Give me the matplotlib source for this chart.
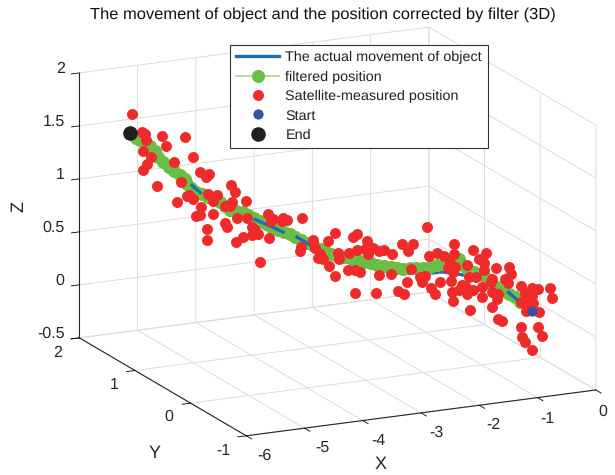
# -*- coding: utf-8 -*-
""" Object movement, satellite measurements and filter output in 3D """

import numpy as np
import matplotlib
matplotlib.use('Agg')
import matplotlib.pyplot as plt
from matplotlib.transforms import offset_copy

# actual movement of object, start -> end
true_x = [-0.99, -1.12, -1.25, -1.38, -1.54, -1.68, -1.85, -2.01, -2.10, -2.25,
          -2.39, -2.58, -2.83, -2.97, -3.14, -3.28, -3.48, -3.63, -3.78, -3.95,
          -4.10, -4.34, -4.55, -4.71, -4.80, -4.94, -5.08, -5.27, -5.44, -5.50]
true_y = [-0.89, -0.81, -0.74, -0.67, -0.58, -0.50, -0.41, -0.32, -0.27, -0.19,
          -0.11, -0.02, 0.13, 0.21, 0.31, 0.38, 0.49, 0.57, 0.66, 0.75,
          0.83, 0.97, 1.08, 1.18, 1.23, 1.30, 1.38, 1.49, 1.58, 1.61]
true_z = [0.28, 0.35, 0.43, 0.48, 0.53, 0.54, 0.55, 0.55, 0.53, 0.52,
          0.50, 0.50, 0.52, 0.54, 0.57, 0.60, 0.66, 0.72, 0.75, 0.80,
          0.84, 0.89, 0.98, 1.03, 1.09, 1.18, 1.28, 1.40, 1.50, 1.52]

# filtered position
filt_x = [-1.12, -1.18, -1.25, -1.31, -1.38, -1.45, -1.50, -1.57, -1.64, -1.71,
          -1.75, -1.81, -1.89, -1.96, -2.05, -2.13, -2.21, -2.29, -2.36, -2.44,
          -2.50, -2.57, -2.65, -2.73, -2.80, -2.87, -2.94, -3.01, -3.09, -3.17,
          -3.24, -3.31, -3.37, -3.43, -3.51, -3.58, -3.65, -3.70, -3.77, -3.84,
          -3.91, -3.97, -4.04, -4.11, -4.18, -4.24, -4.31, -4.38, -4.43, -4.49,
          -4.56, -4.62, -4.69, -4.76, -4.81, -4.86, -4.89, -4.94, -5.01, -5.07,
          -5.13, -5.19, -5.22, -5.27, -5.33, -5.39, -5.43]
filt_y = [-0.81, -0.78, -0.74, -0.71, -0.67, -0.63, -0.60, -0.56, -0.53, -0.49,
          -0.46, -0.43, -0.39, -0.35, -0.30, -0.25, -0.21, -0.17, -0.13, -0.09,
          -0.05, -0.01, 0.03, 0.08, 0.11, 0.16, 0.19, 0.23, 0.28, 0.32,
          0.36, 0.40, 0.43, 0.47, 0.51, 0.55, 0.59, 0.62, 0.65, 0.69,
          0.73, 0.77, 0.80, 0.84, 0.88, 0.91, 0.95, 0.99, 1.02, 1.05,
          1.09, 1.13, 1.16, 1.20, 1.23, 1.26, 1.27, 1.30, 1.34, 1.37,
          1.41, 1.44, 1.46, 1.49, 1.52, 1.55, 1.57]
filt_z = [0.35, 0.39, 0.42, 0.44, 0.47, 0.50, 0.54, 0.57, 0.59, 0.60,
          0.63, 0.69, 0.66, 0.64, 0.61, 0.58, 0.57, 0.56, 0.55, 0.54,
          0.54, 0.54, 0.54, 0.54, 0.56, 0.56, 0.57, 0.57, 0.58, 0.58,
          0.60, 0.62, 0.63, 0.65, 0.67, 0.70, 0.72, 0.74, 0.75, 0.77,
          0.78, 0.81, 0.83, 0.85, 0.87, 0.90, 0.90, 0.90, 0.93, 0.97,
          0.99, 1.00, 1.02, 1.03, 1.07, 1.10, 1.14, 1.18, 1.21, 1.24,
          1.28, 1.32, 1.37, 1.41, 1.44, 1.46, 1.48]

# satellite-measured position
meas_x = [-5.48, -5.36, -5.33, -5.32, -5.35, -5.14, -4.89, -5.10, -5.26, -5.01,
          -4.79, -5.31, -5.35, -4.71, -4.61, -4.65, -5.20, -4.93, -4.37, -4.32,
          -4.97, -4.84, -4.86, -4.79, -4.70, -4.52, -4.62, -4.57, -4.35, -4.20,
          -4.43, -4.38, -4.71, -4.76, -4.57, -4.30, -4.19, -4.43, -4.41, -4.64,
          -4.64, -4.13, -4.10, -4.23, -4.13, -4.06, -4.31, -3.94, -3.95, -3.89,
          -3.92, -3.78, -3.74, -3.79, -3.57, -4.04, -3.45, -3.58, -3.59, -3.28,
          -3.42, -3.37, -3.39, -3.33, -3.27, -2.17, -3.20, -3.00, -2.95, -2.84,
          -2.45, -2.32, -2.38, -1.86, -2.95, -2.86, -2.77, -2.83, -2.71, -2.65,
          -2.56, -3.04, -3.17, -3.15, -3.20, -3.05, -2.97, -2.92, -2.97, -2.74,
          -2.71, -2.57, -2.49, -2.42, -2.35, -2.39, -2.25, -2.19, -2.22, -2.12,
          -2.08, -2.02, -2.14, -2.05, -1.98, -1.86, -1.91, -1.85, -1.90, -1.89,
          -1.88, -1.81, -1.65, -1.50, -1.58, -1.53, -1.39, -1.25, -1.53, -1.91,
          -1.72, -1.93, -1.88, -1.70, -1.61, -1.22, -1.29, -1.43, -1.45, -1.26,
          -1.77, -1.73, -1.55, -1.65, -1.72, -1.55, -1.43, -1.37, -1.38, -1.44,
          -1.68, -1.11, -0.99, -0.92, -0.79, -0.76, -1.07, -0.99, -1.11, -1.04,
          -0.98, -1.06, -0.98, -0.91, -1.37, -1.33, -1.11, -0.92, -1.10, -1.07,
          -0.88, -0.99]
meas_y = [1.60, 1.54, 1.52, 1.51, 1.53, 1.41, 1.27, 1.39, 1.48, 1.34,
          1.22, 1.50, 1.53, 1.18, 1.12, 1.14, 1.44, 1.29, 0.98, 0.96,
          1.32, 1.24, 1.26, 1.22, 1.17, 1.07, 1.13, 1.09, 0.98, 0.89,
          1.02, 0.99, 1.18, 1.20, 1.09, 0.95, 0.88, 1.02, 1.01, 1.13,
          1.13, 0.85, 0.83, 0.91, 0.85, 0.82, 0.95, 0.75, 0.75, 0.72,
          0.73, 0.66, 0.64, 0.67, 0.54, 0.80, 0.47, 0.55, 0.55, 0.38,
          0.46, 0.43, 0.44, 0.41, 0.37, -0.23, 0.34, 0.23, 0.20, 0.14,
          -0.08, -0.15, -0.12, -0.40, 0.20, 0.15, 0.10, 0.13, 0.06, 0.03,
          -0.02, 0.25, 0.32, 0.31, 0.34, 0.26, 0.21, 0.18, 0.21, 0.08,
          0.06, -0.01, -0.05, -0.09, -0.13, -0.11, -0.19, -0.22, -0.20, -0.26,
          -0.28, -0.31, -0.25, -0.30, -0.34, -0.40, -0.38, -0.41, -0.38, -0.39,
          -0.40, -0.43, -0.52, -0.60, -0.56, -0.59, -0.66, -0.74, -0.59, -0.38,
          -0.48, -0.36, -0.40, -0.50, -0.54, -0.76, -0.72, -0.64, -0.63, -0.74,
          -0.45, -0.48, -0.58, -0.52, -0.48, -0.58, -0.64, -0.68, -0.67, -0.64,
          -0.50, -0.82, -0.89, -0.92, -1.00, -1.00, -0.84, -0.89, -0.82, -0.86,
          -0.89, -0.85, -0.89, -0.93, -0.68, -0.70, -0.82, -0.92, -0.82, -0.84,
          -0.95, -0.89]
meas_z = [1.70, 1.54, 1.52, 1.47, 1.36, 1.52, 1.54, 1.43, 1.31, 1.29,
          1.36, 1.24, 1.18, 1.22, 1.22, 1.19, 1.05, 1.11, 1.14, 1.08,
          0.92, 1.00, 0.98, 0.96, 0.90, 1.03, 1.03, 0.97, 0.98, 1.00,
          0.93, 0.94, 0.82, 0.81, 0.85, 0.83, 0.85, 0.77, 0.74, 0.70,
          0.59, 0.77, 0.74, 0.66, 0.69, 0.70, 0.61, 0.68, 0.91, 0.86,
          0.84, 0.88, 0.87, 0.85, 0.91, 0.44, 0.71, 0.63, 0.59, 0.72,
          0.64, 0.59, 0.55, 0.54, 0.48, 0.96, 0.80, 0.78, 0.81, 0.76,
          0.77, 0.78, 0.71, 0.83, 0.66, 0.68, 0.70, 0.64, 0.68, 0.69,
          0.67, 0.63, 0.61, 0.56, 0.39, 0.46, 0.47, 0.46, 0.26, 0.28,
          0.45, 0.47, 0.32, 0.30, 0.54, 0.42, 0.48, 0.49, 0.43, 0.39,
          0.33, 0.45, 0.69, 0.72, 0.70, 0.73, 0.60, 0.61, 0.47, 0.37,
          0.29, 0.40, 0.79, 0.78, 0.71, 0.68, 0.65, 0.67, 0.62, 0.64,
          0.64, 0.59, 0.56, 0.53, 0.54, 0.61, 0.55, 0.54, 0.51, 0.52,
          0.45, 0.44, 0.45, 0.41, 0.37, 0.36, 0.42, 0.41, 0.36, 0.28,
          0.22, 0.51, 0.50, 0.49, 0.52, 0.42, 0.44, 0.42, 0.35, 0.36,
          0.36, 0.28, 0.29, 0.28, 0.17, 0.15, 0.12, 0.14, 0.02, -0.02,
          0.06, -0.09]

# stretches of the actual path that sit in front of the green markers
true_front = [(0, 2), (16, 17), (18, 20), (23, 24)]

x_ticks = [-6, -5, -4, -3, -2, -1, 0]
y_ticks = [-1, 0, 1, 2]
z_ticks = [-0.5, 0, 0.5, 1, 1.5, 2]

plt.rcParams['font.family'] = ['Liberation Sans', 'DejaVu Sans']
plt.rcParams['text.hinting'] = 'no_hinting'
text_col = '#262626'
grid_col = '#dcdcdc'

fig = plt.figure(figsize=(6.15, 4.75), dpi=100, facecolor='white')
ax = fig.add_axes([31/615, -63/475, 597/615, 597/475], projection='3d',
                  computed_zorder=False)
ax.set_proj_type('ortho')
ax.view_init(elev=16.1, azim=-115.3)
ax.set_box_aspect((387, 391, 276))
ax.patch.set_alpha(0)

ln_true, = ax.plot(true_x, true_y, true_z, color='#1f6db3', lw=2.4, zorder=2,
                   label='The actual movement of object')
ln_filt, = ax.plot(filt_x, filt_y, filt_z, '-o', color='#a8d78f', lw=1.2,
                   mfc='#6cbd45', mec='#6cbd45', ms=8.4, zorder=3,
                   label='filtered position')
for i0, i1 in true_front:
    ax.plot(true_x[i0:i1+1], true_y[i0:i1+1], true_z[i0:i1+1],
            color='#1f6db3', lw=2.4, zorder=4)
ln_meas, = ax.plot(meas_x, meas_y, meas_z, 'o', color='#ee2a2a', ms=7.9, mew=0,
                   zorder=5, label='Satellite-measured position')
ln_start, = ax.plot(true_x[:1], true_y[:1], true_z[:1], 'o', color='#3953a4',
                    ms=7.4, mew=0, zorder=6, label='Start')
ln_end, = ax.plot(true_x[-1:], true_y[-1:], true_z[-1:], 'o', color='#231f20',
                  ms=10.5, mew=0, zorder=7, label='End')

ax.set_xlim(-6, 0, view_margin=0)
ax.set_ylim(-1, 2, view_margin=0)
ax.set_zlim(-0.5, 2, view_margin=0)
ax.set_xticks(x_ticks)
ax.set_yticks(y_ticks)
ax.set_zticks(z_ticks)
ax.set_xticklabels(['-6', '-5', '-4', '-3', '-2', '-1', '0'])
ax.set_yticklabels(['-1', '0', '1', '2'])
ax.set_zticklabels(['-0.5', '0', '0.5', '1', '1.5', '2'])

for axis, tick_len in zip((ax.xaxis, ax.yaxis, ax.zaxis), (0.4, 0.3, 0.28)):
    axis.set_pane_color((1, 1, 1, 0))
    axis.pane.set_edgecolor('none')
    axis.line.set_color(text_col)
    axis.line.set_linewidth(0.8)
    axis._axinfo['grid'].update(color=grid_col, linewidth=0.7)
    axis._axinfo['tick'].update(inward_factor=tick_len, outward_factor=0,
                                color=text_col, linewidth={True: 0.6, False: 0.6})
ax.tick_params(labelsize=11.5, labelcolor=text_col, pad=4)


def nudge(tick, dx, dy):
    # Axis3D.get_major_ticks resets the transform on every call, so pin it
    tick.label1.set_transform(offset_copy(ax.transData, fig, x=dx, y=dy, units='dots'))
    tick.label1.set_transform = lambda t: None


# tick labels moved to where they sit in the original (pixels, y up)
x_nudge = [(9, 7), (9, 7), (7, 7), (6, 7), (5, 7), (1, 6), (-2, 5)]
y_nudge = [(-4, 9), (-3, 11), (-2, 10), (-3, 9)]
for tick, (dx, dy) in zip(ax.xaxis.get_major_ticks(), x_nudge):
    nudge(tick, dx, dy)
for tick, (dx, dy) in zip(ax.yaxis.get_major_ticks(), y_nudge):
    nudge(tick, dx, dy)
for tick in ax.zaxis.get_major_ticks():
    tick.label1.set_ha('right')
    nudge(tick, 13, 9)

fig.text(381/615, 1 - 464/475, 'X', fontsize=13, color=text_col, ha='center', va='center')
fig.text(155/615, 1 - 453/475, 'Y', fontsize=13, color=text_col, ha='center', va='center')
fig.text(19/615, 1 - 206/475, 'Z', fontsize=13, color=text_col, ha='center', va='center',
         rotation=90)

fig.text(323/615, 1 - 14.5/475, 'The movement of object and the position corrected by filter (3D)',
         fontsize=11.85, color='#111111', ha='center', va='center')

leg = fig.legend(handles=[ln_true, ln_filt, ln_meas, ln_start, ln_end],
                 loc='upper left', bbox_to_anchor=(230/615, 1 - 45/475),
                 fontsize=10.4, frameon=True, fancybox=False, framealpha=1,
                 edgecolor='#333333', borderpad=0.42, labelspacing=0.44,
                 handlelength=3.0, handletextpad=0.42, borderaxespad=0)
leg.get_frame().set_linewidth(0.8)
for t in leg.get_texts():
    t.set_color('#231f20')

fig.savefig('out.png', dpi=100)
